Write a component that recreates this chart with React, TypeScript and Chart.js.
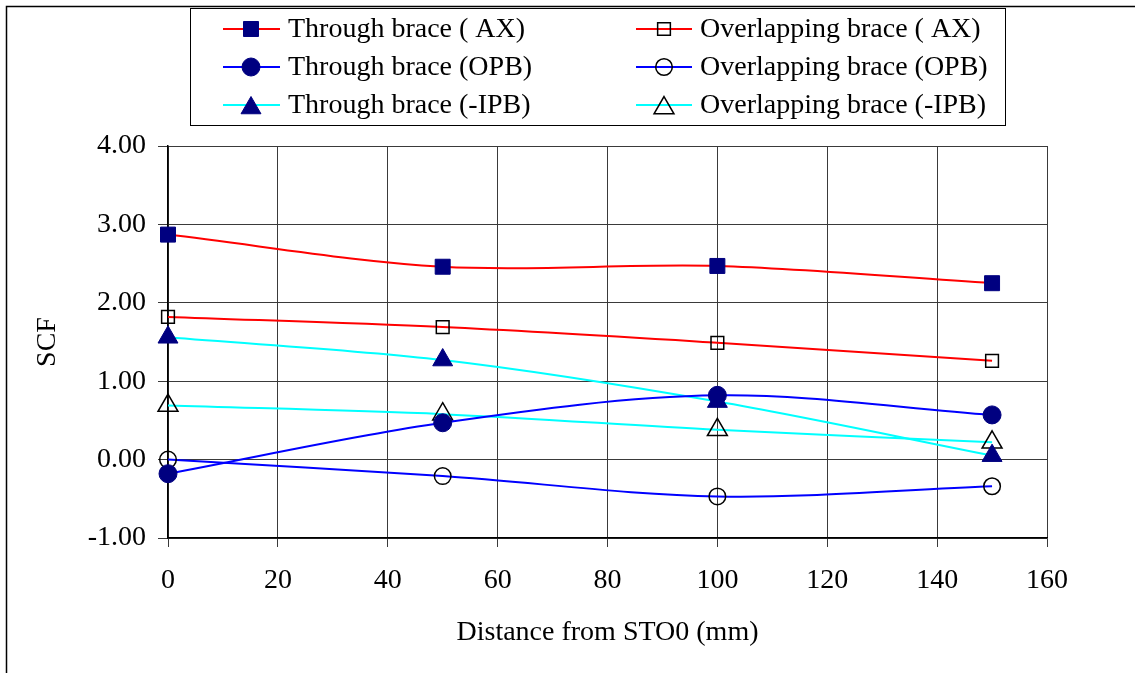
import React, { useEffect, useRef } from 'react';
import { Chart, registerables } from 'chart.js';

Chart.register(...registerables);

// ---- Data ----
const xValues = [0, 50, 100, 150];
const throughAX = [2.87, 2.46, 2.47, 2.25];
const overlapAX = [1.82, 1.69, 1.49, 1.26];
const throughOPB = [-0.18, 0.47, 0.82, 0.57];
const overlapOPB = [0.0, -0.21, -0.47, -0.34];
const throughIPB = [1.56, 1.27, 0.74, 0.05];
const overlapIPB = [0.69, 0.58, 0.38, 0.22];

const seriesLabels = [
  'Through brace ( AX)',
  'Overlapping brace ( AX)',
  'Through brace (OPB)',
  'Overlapping brace (OPB)',
  'Through brace (-IPB)',
  'Overlapping brace (-IPB)',
];

const xMin = 0;
const xMax = 160;
const xStep = 20;
const yMin = -1;
const yMax = 4;
const yStep = 1;

const xTitle = 'Distance from STO0 (mm)';
const yTitle = 'SCF';

const FONT = '"Liberation Serif", "Times New Roman", serif';
const FSIZE = 28;
const NAVY = '#000080';
const RED = '#FF0000';
const BLUE = '#0000FF';
const CYAN = '#00FFFF';

type Style = {
  line: string;
  shape: 'rect' | 'circle' | 'triangle';
  radius: number;
  filled: boolean;
};

const styles: Style[] = [
  { line: RED, shape: 'rect', radius: 10.6, filled: true },
  { line: RED, shape: 'rect', radius: 9, filled: false },
  { line: BLUE, shape: 'circle', radius: 9, filled: true },
  { line: BLUE, shape: 'circle', radius: 8.3, filled: false },
  { line: CYAN, shape: 'triangle', radius: 11.5, filled: true },
  { line: CYAN, shape: 'triangle', radius: 11.5, filled: false },
];

const seriesValues = [throughAX, overlapAX, throughOPB, overlapOPB, throughIPB, overlapIPB];

function drawMarker(ctx: CanvasRenderingContext2D, s: Style, x: number, y: number) {
  ctx.save();
  ctx.beginPath();
  const r = s.radius;
  if (s.shape === 'rect') {
    const h = Math.SQRT1_2 * r;
    ctx.rect(x - h, y - h, 2 * h, 2 * h);
  } else if (s.shape === 'circle') {
    ctx.arc(x, y, r, 0, Math.PI * 2);
  } else {
    let rad = 0;
    ctx.moveTo(x + Math.sin(rad) * r, y - Math.cos(rad) * r);
    rad += (2 * Math.PI) / 3;
    ctx.lineTo(x + Math.sin(rad) * r, y - Math.cos(rad) * r);
    rad += (2 * Math.PI) / 3;
    ctx.lineTo(x + Math.sin(rad) * r, y - Math.cos(rad) * r);
    ctx.closePath();
  }
  if (s.filled) {
    ctx.fillStyle = NAVY;
    ctx.fill();
    ctx.strokeStyle = NAVY;
    ctx.lineWidth = 1;
    ctx.stroke();
  } else {
    ctx.strokeStyle = '#000';
    ctx.lineWidth = 1.5;
    ctx.stroke();
  }
  ctx.restore();
}

const framePlugin = {
  id: 'framePlugin',
  beforeDraw(chart: any) {
    const ctx = chart.ctx as CanvasRenderingContext2D;
    ctx.save();
    ctx.fillStyle = '#fff';
    ctx.fillRect(0, 0, chart.width, chart.height);
    ctx.strokeStyle = '#000';
    ctx.lineWidth = 1.5;
    ctx.strokeRect(6.5, 6.5, 3000, 3000);
    ctx.restore();
  },
  afterDraw(chart: any) {
    const ctx = chart.ctx as CanvasRenderingContext2D;
    ctx.save();
    ctx.fillStyle = '#fff';
    ctx.fillRect(190.5, 8.5, 815, 117);
    ctx.strokeStyle = '#000';
    ctx.lineWidth = 1;
    ctx.strokeRect(190.5, 8.5, 815, 117);
    const rows = [29, 67, 105];
    const cols = [
      { x0: 223, x1: 280, mx: 251, tx: 288 },
      { x0: 636, x1: 692, mx: 664, tx: 700 },
    ];
    ctx.font = `${FSIZE}px ${FONT}`;
    ctx.textBaseline = 'middle';
    ctx.textAlign = 'left';
    seriesLabels.forEach((label, i) => {
      const row = rows[Math.floor(i / 2)];
      const col = cols[i % 2];
      const s = styles[i];
      ctx.strokeStyle = s.line;
      ctx.lineWidth = 2;
      ctx.beginPath();
      ctx.moveTo(col.x0, row);
      ctx.lineTo(col.x1, row);
      ctx.stroke();
      drawMarker(ctx, s, col.mx, s.shape === 'triangle' ? row + 3 : row);
      ctx.fillStyle = '#000';
      ctx.fillText(label, col.tx, row + 1);
    });
    ctx.restore();
  },
};

export default function App() {
  const ref = useRef<HTMLCanvasElement>(null);

  useEffect(() => {
    if (!ref.current) return;
    const datasets = seriesValues.map((vals, i) => {
      const s = styles[i];
      return {
        label: seriesLabels[i],
        data: xValues.map((x, j) => ({ x, y: vals[j] })),
        borderColor: s.line,
        borderWidth: 2,
        backgroundColor: s.line,
        tension: 0.33,
        pointStyle: s.shape,
        pointRadius: s.radius,
        pointHoverRadius: s.radius,
        pointBackgroundColor: s.filled ? NAVY : 'rgba(0,0,0,0)',
        pointBorderColor: s.filled ? NAVY : '#000',
        pointBorderWidth: s.filled ? 1 : 1.5,
        fill: false,
        clip: false as any,
      };
    });

    const chart = new Chart(ref.current, {
      type: 'line',
      data: { datasets },
      plugins: [framePlugin],
      options: {
        animation: false,
        responsive: false,
        maintainAspectRatio: false,
        events: [],
        layout: { padding: { top: 146, right: 88, bottom: 0, left: 0 } },
        plugins: {
          legend: { display: false },
          tooltip: { enabled: false },
          title: { display: false },
        },
        scales: {
          x: {
            type: 'linear',
            min: xMin,
            max: xMax,
            afterFit: (scale: any) => {
              scale.height = 135;
            },
            ticks: {
              stepSize: xStep,
              color: '#000',
              font: { family: FONT, size: FSIZE },
              padding: 17,
              maxRotation: 0,
            },
            grid: { color: '#3a3a3a', lineWidth: 1, tickLength: 9, drawTicks: true },
            border: { color: '#000', width: 1.5 },
            title: {
              display: true,
              text: xTitle,
              color: '#000',
              font: { family: FONT, size: FSIZE },
              padding: { top: 0, bottom: 24 },
            },
          },
          y: {
            type: 'linear',
            min: yMin,
            max: yMax,
            afterFit: (scale: any) => {
              scale.width = 168;
            },
            ticks: {
              stepSize: yStep,
              color: '#000',
              font: { family: FONT, size: FSIZE },
              padding: 12,
              callback: (v: any) => Number(v).toFixed(2),
            },
            grid: { color: '#3a3a3a', lineWidth: 1, tickLength: 10, drawTicks: true },
            border: { color: '#000', width: 1.5 },
            title: {
              display: true,
              text: yTitle,
              color: '#000',
              font: { family: FONT, size: FSIZE },
              padding: { top: 31, bottom: 0 },
            },
          },
        },
      },
    });
    return () => chart.destroy();
  }, []);

  return (
    <div style={{ position: 'absolute', left: 0, top: 0, width: 1135, height: 673 }}>
      <canvas ref={ref} width={1135} height={673} style={{ width: 1135, height: 673, display: 'block' }} />
    </div>
  );
}
